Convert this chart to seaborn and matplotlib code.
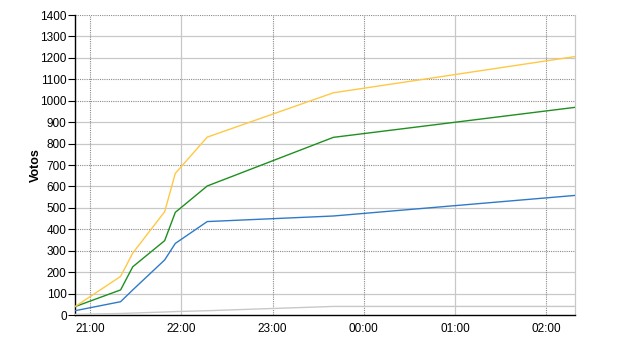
import matplotlib
matplotlib.use("Agg")
import matplotlib.pyplot as plt
import matplotlib.dates as mdates
import seaborn as sns
import pandas as pd

# ---- data ----
times = ["20:50", "21:20", "21:28", "21:49", "21:56", "22:17", "23:40", "02:19"]
series_names = ["A", "B", "C", "D"]
orange_vals = [39, 180, 289, 482, 661, 830, 1037, 1206]
green_vals = [39, 117, 225, 347, 479, 602, 829, 969]
blue_vals = [20, 62, 117, 257, 334, 436, 462, 558]
gray_vals = [3, 7, 9, 14, 16, 20, 40, 40]
y_ticks = [0, 100, 200, 300, 400, 500, 600, 700, 800, 900, 1000, 1100, 1200, 1300, 1400]
x_tick_labels = ["21:00", "22:00", "23:00", "00:00", "01:00", "02:00"]

def to_dt(t):
    h, m = map(int, t.split(":"))
    day = 1 if h >= 12 else 2
    return pd.Timestamp(2000, 1, day, h, m)

dts = [to_dt(t) for t in times]
df = pd.DataFrame({
    "time": dts * 4,
    "votos": orange_vals + green_vals + blue_vals + gray_vals,
    "serie": sum([[n] * len(dts) for n in series_names], []),
})

palette = {"A": "#FFC845", "B": "#1F8F1F", "C": "#2F7AC8", "D": "#C8C8C8"}

sns.set_theme(style="white")
plt.rcParams["font.family"] = ["Liberation Sans", "DejaVu Sans"]

fig = plt.figure(figsize=(6.4, 3.5), dpi=100)
ax = fig.add_axes([75 / 640, 1 - 315 / 350, 500 / 640, 300 / 350])

# grid lines (mixed styles as in the reference)
dotted_y = {1400, 1100, 1000, 700, 400, 300}
for v in y_ticks[1:]:
    if v in dotted_y:
        ax.axhline(v, color="#8a8a8a", lw=0.8, ls=(0, (1, 1)), zorder=1)
    else:
        ax.axhline(v, color="#c8c8c8", lw=0.9, ls="-", zorder=1)
x_dt = [to_dt(t) for t in x_tick_labels]
dotted_x = {"21:00", "23:00", "00:00", "02:00"}
for lab, d in zip(x_tick_labels, x_dt):
    if lab in dotted_x:
        ax.axvline(d, color="#8a8a8a", lw=0.8, ls=(0, (1, 1)), zorder=1)
    else:
        ax.axvline(d, color="#c8c8c8", lw=0.9, ls="-", zorder=1)

sns.lineplot(data=df, x="time", y="votos", hue="serie", palette=palette,
             hue_order=["D", "C", "B", "A"], linewidth=1.0, ax=ax,
             legend=False, zorder=3)

ax.set_xlim(dts[0], dts[-1])
ax.set_ylim(0, 1400)
ax.set_yticks(y_ticks)
ax.set_xticks(x_dt)
ax.xaxis.set_major_formatter(mdates.DateFormatter("%H:%M"))
ax.tick_params(axis="y", which="major", length=5, width=0.8, color="black",
               labelsize=8.5, labelcolor="black", pad=1, left=True)
ax.tick_params(axis="x", which="major", length=0, labelsize=8.5,
               labelcolor="black", pad=6)
ax.set_xlabel("")
ax.set_ylabel("Votos", fontsize=9, fontweight="bold", labelpad=-1, color="black")

for s in ["top"]:
    ax.spines[s].set_visible(False)
ax.spines["right"].set_color("#c8c8c8")
ax.spines["right"].set_linewidth(0.9)
ax.spines["left"].set_color("black")
ax.spines["bottom"].set_color("black")
ax.spines["left"].set_linewidth(1.0)
ax.spines["bottom"].set_linewidth(1.0)
ax.set_facecolor("white")

fig.savefig("out.png", dpi=100, facecolor="white")
